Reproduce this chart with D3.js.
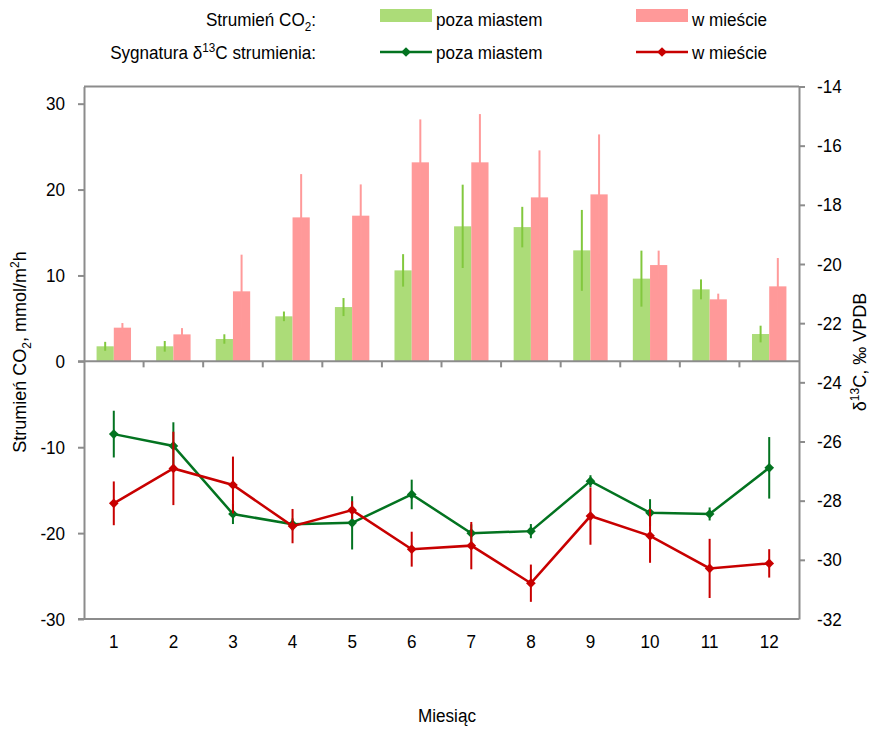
<!DOCTYPE html>
<html><head><meta charset="utf-8">
<script src="https://cdn.jsdelivr.net/npm/d3@7"></script>
<style>
body{margin:0;background:#fff;}
text{font-family:"Liberation Sans",Arial,sans-serif;fill:#000;}
</style></head><body>
<svg id="c" width="873" height="730"></svg>
<script>
const months = ["1","2","3","4","5","6","7","8","9","10","11","12"];
// CO2 flux (mmol/m2h)
const fluxOutside = [1.75,1.75,2.6,5.24,6.32,10.59,15.72,15.63,12.92,9.63,8.38,3.18];
const fluxOutsideErr = [0.52,0.62,0.55,0.56,1.05,1.89,4.85,2.36,4.71,3.26,1.16,0.97];
const fluxCity = [3.92,3.14,8.15,16.76,16.96,23.17,23.17,19.09,19.44,11.21,7.22,8.73];
const fluxCityErr = [0.54,0.73,4.27,5.04,3.64,5.0,5.62,5.47,6.98,1.68,0.66,3.3];
// delta13C signature (‰ VPDB)
const d13Outside = [-25.75,-26.15,-28.45,-28.8,-28.75,-27.79,-29.1,-29.03,-27.34,-28.41,-28.45,-26.89];
const d13OutsideErr = [0.79,0.8,0.34,0.2,0.9,0.5,0.3,0.24,0.2,0.46,0.22,1.04];
const d13City = [-28.09,-26.91,-27.47,-28.86,-28.32,-29.64,-29.52,-30.79,-28.52,-29.19,-30.29,-30.12];
const d13CityErr = [0.74,1.24,0.96,0.58,0.3,0.59,0.8,0.63,0.97,0.91,1.0,0.48];
const leftTicks = [-30,-20,-10,0,10,20,30];
const rightTicks = [-32,-30,-28,-26,-24,-22,-20,-18,-16,-14];
const seriesNames = ["poza miastem","w mieście"];

const svg = d3.select("#c");
const L = 84, R = 799, T = 86.5, B = 619;
const FS = 19, SX = 0.9;
const axisCol = "#8c8c8c";
const x = d3.scaleBand().domain(months).range([L, R]).padding(0);
const xs = d3.scaleBand().domain(seriesNames).range([0, x.bandwidth()]).paddingInner(0).paddingOuter(0.73);
const yL = d3.scaleLinear().domain([-30, 32]).range([B, T]);
const yR = d3.scaleLinear().domain([-32, -14]).range([B, T]);

const cGreenBar = "#acdc78", cGreenErr = "#82c83e", cRedBar = "#ff9999", cRedErr = "#ff9a9a";
const cGreenLine = "#037320", cRedLine = "#c80000";

// horizontal text helper (condensed)
function htext(parent, px, py, anchor) {
  return parent.append("g").attr("transform", `translate(${px},${py}) scale(${SX},1)`)
    .append("text").attr("text-anchor", anchor).attr("font-size", FS);
}

// bars
const barData = [
  {name: seriesNames[0], vals: fluxOutside, errs: fluxOutsideErr, fill: cGreenBar, err: cGreenErr},
  {name: seriesNames[1], vals: fluxCity, errs: fluxCityErr, fill: cRedBar, err: cRedErr}
];
barData.forEach(s => {
  const g = svg.append("g");
  g.selectAll("rect").data(months).join("rect")
    .attr("x", (m) => x(m) + xs(s.name))
    .attr("width", xs.bandwidth())
    .attr("y", (m, i) => yL(s.vals[i]))
    .attr("height", (m, i) => yL(0) - yL(s.vals[i]))
    .attr("fill", s.fill);
  g.selectAll("line").data(months).join("line")
    .attr("x1", (m) => x(m) + xs(s.name) + xs.bandwidth() / 2)
    .attr("x2", (m) => x(m) + xs(s.name) + xs.bandwidth() / 2)
    .attr("y1", (m, i) => yL(s.vals[i] + s.errs[i]))
    .attr("y2", (m, i) => yL(s.vals[i] - s.errs[i]))
    .attr("stroke", s.err).attr("stroke-width", 2);
});

// frame / axes
const axL = svg.append("g").attr("transform", `translate(${L},0)`)
  .call(d3.axisLeft(yL).tickValues(leftTicks).tickSize(6).tickSizeOuter(0).tickPadding(15));
const axR = svg.append("g").attr("transform", `translate(${R},0)`)
  .call(d3.axisRight(yR).tickValues(rightTicks).tickSize(6).tickSizeOuter(0).tickPadding(14));
axL.selectAll(".tick text").text(d => String(d));
axR.selectAll(".tick text").text(d => String(d));
[axL, axR].forEach(a => {
  a.select(".domain").attr("stroke", axisCol).attr("stroke-width", 2);
  a.selectAll(".tick line").attr("stroke", axisCol).attr("stroke-width", 2);
  a.selectAll("text").attr("font-size", FS).attr("fill", "#000").attr("font-family", null)
    .attr("transform", `scale(${SX},1)`);
});
axR.selectAll(".tick").filter(d => d === -32).select("line").remove();
// top border
svg.append("line").attr("x1", L).attr("x2", R).attr("y1", T).attr("y2", T)
  .attr("stroke", axisCol).attr("stroke-width", 2);
// zero category line with ticks
svg.append("line").attr("x1", L - 6).attr("x2", R).attr("y1", yL(0)).attr("y2", yL(0))
  .attr("stroke", axisCol).attr("stroke-width", 2);
svg.append("g").selectAll("line").data(months.slice(1)).join("line")
  .attr("x1", m => x(m)).attr("x2", m => x(m))
  .attr("y1", yL(0)).attr("y2", yL(0) + 6)
  .attr("stroke", axisCol).attr("stroke-width", 2);
// bottom axis
const axB = svg.append("g").attr("transform", `translate(0,${B})`)
  .call(d3.axisBottom(x).tickSize(0).tickPadding(16));
axB.select(".domain").attr("stroke", axisCol).attr("stroke-width", 2).attr("d", `M${L - 6},0H${R}`);
axB.selectAll("text").attr("font-size", FS).attr("fill", "#000").attr("font-family", null)
  .attr("transform", `scale(${SX},1)`);

// lines
const lineData = [
  {vals: d13Outside, errs: d13OutsideErr, col: cGreenLine},
  {vals: d13City, errs: d13CityErr, col: cRedLine}
];
const cx = m => x(m) + x.bandwidth() / 2;
lineData.forEach(s => {
  const g = svg.append("g");
  g.selectAll("line").data(months).join("line")
    .attr("x1", cx).attr("x2", cx)
    .attr("y1", (m, i) => yR(s.vals[i] + s.errs[i]))
    .attr("y2", (m, i) => yR(s.vals[i] - s.errs[i]))
    .attr("stroke", s.col).attr("stroke-width", 2);
  g.append("path").datum(months)
    .attr("d", d3.line().x(cx).y((m, i) => yR(s.vals[i])))
    .attr("fill", "none").attr("stroke", s.col).attr("stroke-width", 2.5);
  g.selectAll("path.mk").data(months).join("path").attr("class", "mk")
    .attr("d", d3.symbol(d3.symbolDiamond2, 60)())
    .attr("transform", (m, i) => `translate(${cx(m)},${yR(s.vals[i])})`)
    .attr("fill", s.col);
});

// axis titles
const lt = svg.append("text").attr("transform", "translate(26,352) rotate(-90)")
  .attr("text-anchor", "middle").attr("font-size", 18);
lt.append("tspan").text("Strumień CO");
lt.append("tspan").text("2").attr("font-size", 12).attr("dy", 5);
lt.append("tspan").text(", mmol/m").attr("dy", -5);
lt.append("tspan").text("2").attr("font-size", 12).attr("dy", -7);
lt.append("tspan").text("h").attr("dy", 7);

const rt = svg.append("text").attr("transform", "translate(866,352) rotate(-90)")
  .attr("text-anchor", "middle").attr("font-size", 18);
rt.append("tspan").text("δ");
rt.append("tspan").text("13").attr("font-size", 12).attr("dy", -7);
rt.append("tspan").text("C, ‰ VPDB").attr("dy", 7);

htext(svg, 447, 722, "middle").text("Miesiąc");

// legend
const lg = svg.append("g");
const l1 = htext(lg, 316, 26, "end");
l1.append("tspan").text("Strumień CO");
l1.append("tspan").text("2").attr("font-size", 13).attr("dy", 5);
l1.append("tspan").text(":").attr("dy", -5);
const l2 = htext(lg, 316, 59, "end");
l2.append("tspan").text("Sygnatura δ");
l2.append("tspan").text("13").attr("font-size", 13).attr("dy", -7);
l2.append("tspan").text("C strumienia:").attr("dy", 7);

const legX = [380, 636];
barData.forEach((s, i) => {
  lg.append("rect").attr("x", legX[i]).attr("y", 9).attr("width", 52).attr("height", 13).attr("fill", s.fill);
  htext(lg, legX[i] + 56, 26, "start").text(s.name);
});
lineData.forEach((s, i) => {
  lg.append("line").attr("x1", legX[i]).attr("x2", legX[i] + 52).attr("y1", 52).attr("y2", 52)
    .attr("stroke", s.col).attr("stroke-width", 2.5);
  lg.append("path").attr("d", d3.symbol(d3.symbolDiamond2, 60)())
    .attr("transform", `translate(${legX[i] + 26},52)`).attr("fill", s.col);
  htext(lg, legX[i] + 56, 59, "start").text(seriesNames[i]);
});
</script></body></html>
